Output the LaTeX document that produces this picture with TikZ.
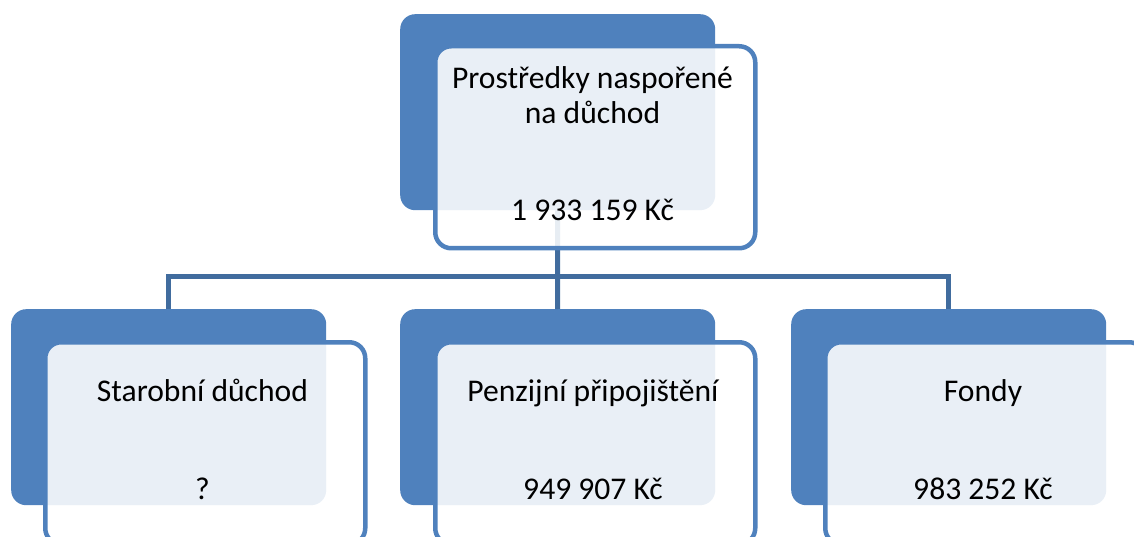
\documentclass[tikz,border=0pt]{standalone}
\usepackage{fontspec}
\setmainfont{Carlito}
\definecolor{accent}{HTML}{4F81BD}
\definecolor{linkcol}{HTML}{416C9E}
\tikzset{
  backbox/.style={fill=accent, draw=none, rounded corners=15pt, minimum width=315pt, minimum height=196pt, inner sep=0pt, anchor=north west},
  frontbox/.style={fill=white, fill opacity=0.88, draw=accent, draw opacity=1, line width=4.5pt, rounded corners=16pt, minimum width=320pt, minimum height=202pt, inner sep=0pt, anchor=north west},
  label/.style={font=\fontsize{31.6}{38}\selectfont, anchor=base, text=black, inner sep=0pt},
  link/.style={draw=linkcol, line width=5pt}
}
\begin{document}
\begin{tikzpicture}[x=1pt,y=-1pt]
\useasboundingbox (0,0) rectangle (1134,537);
\begin{scope}
\clip (0,0) rectangle (1134,537);
% back boxes
\node[backbox] (tb) at (400,14) {};
\node[backbox] (lb) at (11,309) {};
\node[backbox] (mb) at (400,309) {};
\node[backbox] (rb) at (791,309) {};
% connectors
\coordinate (bus) at (557.5,276.5);
\draw[link] (tb.south) -- (bus);
\draw[link, line cap=rect] (lb.north |- bus) -- (rb.north |- bus);
\draw[link] (lb.north |- bus) -- (lb.north);
\draw[link] (bus) -- (mb.north);
\draw[link] (rb.north |- bus) -- (rb.north);
% front boxes
\node[frontbox] (tf) at (433,44) {};
\node[frontbox] (lf) at (43,340) {};
\node[frontbox] (mf) at (433,340) {};
\node[frontbox] (rf) at (823,340) {};
% texts
\node[label] (t1) at (592.5,89) {Prostředky naspořené};
\node[label] (t2) at (592.5,124) {na důchod};
\node[label] (t3) at (592.5,221) {1 933 159 Kč};
\node[label] (l1) at (202.5,401) {Starobní důchod};
\node[label] (l2) at (202.5,499) {?};
\node[label] (m1) at (593,401) {Penzijní připojištění};
\node[label] (m2) at (593,499) {949 907 Kč};
\node[label] (r1) at (983,401) {Fondy};
\node[label] (r2) at (983,499) {983 252 Kč};
\end{scope}
\end{tikzpicture}
\end{document}
